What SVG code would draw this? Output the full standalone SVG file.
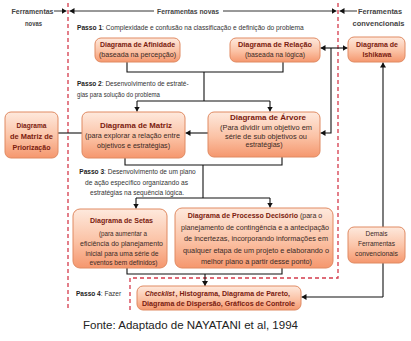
<svg xmlns="http://www.w3.org/2000/svg" width="411" height="341" viewBox="0 0 411 341">
  <defs>
    <linearGradient id="boxFill" x1="0" y1="0" x2="0" y2="1">
      <stop offset="0" stop-color="#FEE9DD"/>
      <stop offset="0.55" stop-color="#FBC2A5"/>
      <stop offset="1" stop-color="#F5976E"/>
    </linearGradient>
    <marker id="arrow" markerWidth="6" markerHeight="6" refX="5" refY="3" orient="auto" markerUnits="userSpaceOnUse">
      <path d="M0,0 L5,3 L0,6 Z" fill="#111"/>
    </marker>
  </defs>
  <style>
    text { font-family: "Liberation Sans Narrow", "Liberation Sans", Arial, sans-serif; }
    .box { fill: url(#boxFill); stroke: #E08A62; stroke-width: 1; }
    .title { font-size: 7.6px; font-weight: bold; fill: #7A200F; text-anchor: middle; }
    .body { font-size: 7.6px; fill: #3A2A26; text-anchor: middle; }
    .body tspan.t { font-weight: bold; fill: #7A200F; }
    .left { text-anchor: start; }
    .step { font-size: 8px; fill: #333; }
    .step tspan.b { font-weight: bold; fill: #222; }
    .head { font-size: 8px; font-weight: bold; fill: #444; text-anchor: middle; }
    .wire { fill: none; stroke: #111; stroke-width: 1.1; }
    .hline { fill: none; stroke: #333; stroke-width: 1; }
    .zone { fill: none; stroke: #D43B4C; stroke-width: 1.3; stroke-dasharray: 4 3; }
    .note { font-size: 10.8px; fill: #222; }
  </style>

  <rect width="411" height="341" fill="#fff"/>

  <!-- zone boundaries -->
  <g id="zones">
    <path class="zone" d="M68,3 V308"/>
    <path class="zone" d="M338,3 V278 H130 V310"/>
  </g>

  <!-- column headers -->
  <g id="headers">
    <text class="head" x="32.5" y="13.5" textLength="42" lengthAdjust="spacingAndGlyphs">Ferramentas</text>
    <text class="head" x="33.5" y="26" textLength="17" lengthAdjust="spacingAndGlyphs">novas</text>
    <text class="head" x="188" y="13.5" textLength="62" lengthAdjust="spacingAndGlyphs">Ferramentas novas</text>
    <text class="head" x="380" y="13.5" textLength="44" lengthAdjust="spacingAndGlyphs">Ferramentas</text>
    <text class="head" x="378.5" y="26" textLength="52" lengthAdjust="spacingAndGlyphs">convencionais</text>
    <path class="hline" d="M54,11 H66.5" marker-end="url(#arrow)"/>
    <path class="hline" d="M154,11 H69.5" marker-end="url(#arrow)"/>
    <path class="hline" d="M223,11 H336.5" marker-end="url(#arrow)"/>
    <path class="hline" d="M357,11 H339.5" marker-end="url(#arrow)"/>
  </g>

  <!-- step captions (narrowed horizontally) -->
  <g id="steps">
    <text class="step" transform="translate(77,30) scale(0.83,1)"><tspan class="b">Passo 1</tspan>: Complexidade  e confusão na classificação e definição do problema</text>
    <text class="step" transform="translate(77,86) scale(0.82,1)"><tspan class="b">Passo 2</tspan>: Desenvolvimento de estraté-</text>
    <text class="step" x="77" y="96.5" textLength="83" lengthAdjust="spacingAndGlyphs">gias para solução do problema</text>
    <text class="step" text-anchor="middle" transform="translate(137.5,174) scale(0.82,1)"><tspan class="b">Passo 3</tspan>: Desenvolvimento de um plano</text>
    <text class="step" x="136.5" y="184.5" text-anchor="middle" textLength="103" lengthAdjust="spacingAndGlyphs">de ação específico organizando as</text>
    <text class="step" x="137" y="195" text-anchor="middle" textLength="94" lengthAdjust="spacingAndGlyphs">estratégias na sequência lógica.</text>
    <text class="step" transform="translate(76,296) scale(0.82,1)"><tspan class="b">Passo 4</tspan>: Fazer</text>
  </g>

  <!-- connectors -->
  <g id="connectors">
    <path class="wire" d="M127,62 V72 H283 V62"/>
    <path class="wire" d="M204,72 V101"/>
    <path class="wire" d="M137,101 H270"/>
    <path class="wire" d="M137,101 V111.5" marker-end="url(#arrow)"/>
    <path class="wire" d="M270,101 V111.5" marker-end="url(#arrow)"/>
    <path class="wire" d="M208,133 H185.5" marker-end="url(#arrow)"/>
    <path class="wire" d="M58,133 H82"/>
    <path class="wire" d="M331,48 H320.5" marker-end="url(#arrow)"/>
    <path class="wire" d="M331,48 H347.5" marker-end="url(#arrow)"/>
    <path class="wire" d="M331,48 V133 H320.5" marker-end="url(#arrow)"/>
    <path class="wire" d="M125,158 V165 H282 V157"/>
    <path class="wire" d="M203,165 V198"/>
    <path class="wire" d="M136,198 H270"/>
    <path class="wire" d="M136,198 V208.5" marker-end="url(#arrow)"/>
    <path class="wire" d="M270,198 V207.5" marker-end="url(#arrow)"/>
    <path class="wire" d="M127,268 V274 H282 V268"/>
    <path class="wire" d="M205,274 V286" marker-end="url(#arrow)"/>
    <path class="wire" d="M383,297 V62.5" marker-end="url(#arrow)"/>
    <path class="wire" d="M383,297 H301.5" marker-end="url(#arrow)"/>
  </g>

  <!-- nodes -->
  <g id="afinidade">
    <rect class="box" x="95" y="38" width="85" height="24" rx="6"/>
    <text class="title" x="137.5" y="47" textLength="75" lengthAdjust="spacingAndGlyphs">Diagrama de Afinidade</text>
    <text class="body" x="137.5" y="57" textLength="77" lengthAdjust="spacingAndGlyphs">(baseada na percepção)</text>
  </g>

  <g id="relacao">
    <rect class="box" x="230" y="38" width="90" height="24" rx="6"/>
    <text class="title" x="275" y="47" textLength="74" lengthAdjust="spacingAndGlyphs">Diagrama de Relação</text>
    <text class="body" x="275" y="57" textLength="60" lengthAdjust="spacingAndGlyphs">(baseada na lógica)</text>
  </g>

  <g id="ishikawa">
    <rect class="box" x="348" y="37" width="57" height="25" rx="6"/>
    <text class="title" x="377" y="46.5" textLength="42" lengthAdjust="spacingAndGlyphs">Diagrama de</text>
    <text class="title" x="377" y="57" textLength="29" lengthAdjust="spacingAndGlyphs">Ishikawa</text>
  </g>

  <g id="priorizacao">
    <rect class="box" x="5" y="112" width="53" height="46" rx="6"/>
    <text class="title" x="31.5" y="127.5" textLength="30" lengthAdjust="spacingAndGlyphs">Diagrama</text>
    <text class="title" x="31.5" y="138.5" textLength="43" lengthAdjust="spacingAndGlyphs">de Matriz de</text>
    <text class="title" x="31.5" y="149.5" textLength="38" lengthAdjust="spacingAndGlyphs">Priorização</text>
  </g>

  <g id="matriz">
    <rect class="box" x="82" y="112" width="103" height="46" rx="6"/>
    <text class="title" x="136" y="127.5" textLength="72" lengthAdjust="spacingAndGlyphs">Diagrama de Matriz</text>
    <text class="body" x="132.5" y="137.5" textLength="95" lengthAdjust="spacingAndGlyphs">(para explorar a relação entre</text>
    <text class="body" x="133.5" y="147.5" textLength="73" lengthAdjust="spacingAndGlyphs">objetivos e estratégias)</text>
  </g>

  <g id="arvore">
    <rect class="box" x="208" y="112" width="112" height="45" rx="6"/>
    <text class="title" x="268" y="120" textLength="76" lengthAdjust="spacingAndGlyphs">Diagrama de Árvore</text>
    <text class="body" x="266" y="129.5" textLength="92" lengthAdjust="spacingAndGlyphs">(Para dividir um objetivo em</text>
    <text class="body" x="266" y="138.5" textLength="82" lengthAdjust="spacingAndGlyphs">série de sub objetivos ou</text>
    <text class="body" x="264" y="147" textLength="37" lengthAdjust="spacingAndGlyphs">estratégias)</text>
  </g>

  <g id="setas">
    <rect class="box" x="73" y="209" width="94" height="59" rx="7"/>
    <text class="title" x="121.5" y="222.5" textLength="63" lengthAdjust="spacingAndGlyphs">Diagrama de Setas</text>
    <text class="body" x="123" y="235.5" textLength="48" lengthAdjust="spacingAndGlyphs">(para aumentar a</text>
    <text class="body" x="121.5" y="245.5" textLength="83" lengthAdjust="spacingAndGlyphs">eficiência do planejamento</text>
    <text class="body" x="122" y="255.5" textLength="73" lengthAdjust="spacingAndGlyphs">inicial para uma série de</text>
    <text class="body" x="123.5" y="265" textLength="68" lengthAdjust="spacingAndGlyphs">eventos bem definidos)</text>
  </g>

  <g id="processo">
    <rect class="box" x="175" y="208" width="158" height="60" rx="7"/>
    <text class="body" transform="translate(255,217.5) scale(0.93,1)"><tspan class="t">Diagrama de Processo Decisório</tspan> (para o</text>
    <text class="body" x="255" y="229.5" textLength="148" lengthAdjust="spacingAndGlyphs">planejamento  de contingência e a antecipação</text>
    <text class="body" x="256" y="241" textLength="144" lengthAdjust="spacingAndGlyphs">de incertezas, incorporando informações em</text>
    <text class="body" x="256" y="252.5" textLength="146" lengthAdjust="spacingAndGlyphs">qualquer  etapa de um projeto e elaborando o</text>
    <text class="body" x="256.5" y="263.5" textLength="111" lengthAdjust="spacingAndGlyphs">melhor plano a partir desse ponto)</text>
  </g>

  <g id="demais">
    <rect class="box" x="348" y="227" width="57" height="36" rx="6"/>
    <text class="body" x="376.5" y="236" textLength="22" lengthAdjust="spacingAndGlyphs">Demais</text>
    <text class="body" x="376.5" y="246" textLength="37" lengthAdjust="spacingAndGlyphs">Ferramentas</text>
    <text class="body" x="376.5" y="256" textLength="43" lengthAdjust="spacingAndGlyphs">convencionais</text>
  </g>

  <g id="checklist">
    <rect class="box" x="137" y="286" width="164" height="24" rx="6"/>
    <text class="title left" x="145" y="296" textLength="29.5" lengthAdjust="spacingAndGlyphs" font-style="italic">Checklist</text>
    <text class="title left" x="175.5" y="296" textLength="114.5" lengthAdjust="spacingAndGlyphs">, Histograma, Diagrama de Pareto,</text>
    <text class="title" x="218.5" y="306" textLength="153" lengthAdjust="spacingAndGlyphs">Diagrama de Dispersão, Gráficos de Controle</text>
  </g>

  <!-- source line -->
  <text class="note" x="83" y="329" textLength="215" lengthAdjust="spacingAndGlyphs">Fonte: Adaptado  de NAYATANI et al, 1994</text>
</svg>
